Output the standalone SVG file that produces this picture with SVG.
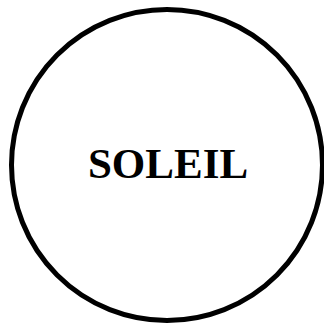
<svg xmlns="http://www.w3.org/2000/svg" width="324" height="324" viewBox="0 0 324 324">
<style>
.node{fill:#fff;stroke:#000;stroke-width:5}
.lbl{font-family:"Liberation Serif","Times New Roman",serif;font-weight:bold;font-size:43px;fill:#000;text-anchor:middle}
</style>
<rect width="324" height="324" fill="#fff"/>
<g id="connectors"></g>
<g id="soleil">
<circle class="node" cx="167" cy="165" r="155.5"/>
<text class="lbl" x="168" y="178">SOLEIL</text>
</g>
</svg>
